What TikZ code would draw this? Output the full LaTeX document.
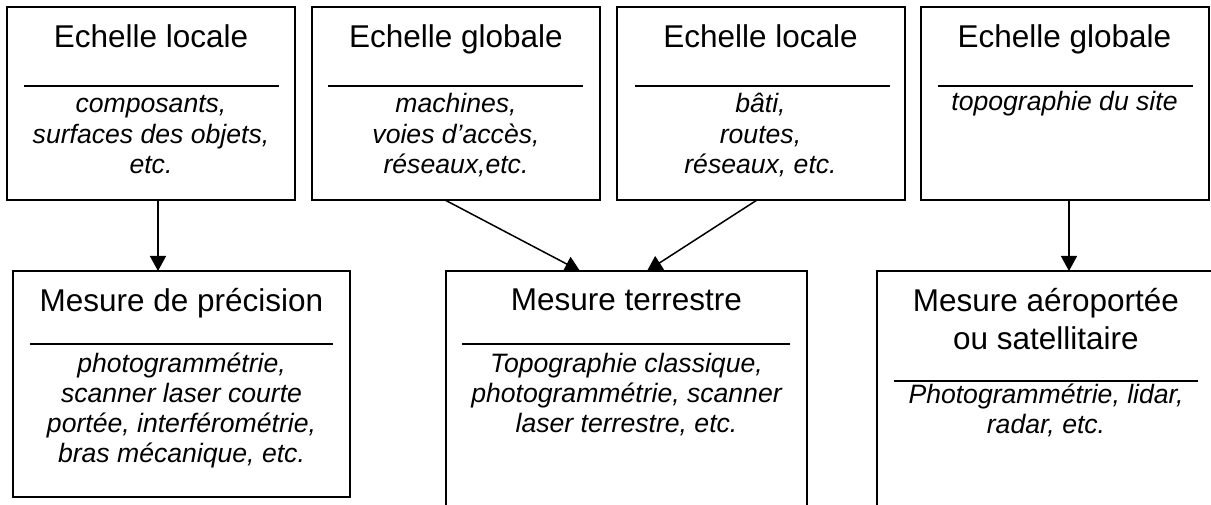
\documentclass[tikz,border=0pt]{standalone}
\usepackage{fontspec}
\setmainfont{Liberation Sans}
\usetikzlibrary{arrows.meta}
\newcommand{\ttlfont}{\fontsize{31.5}{38}\selectfont}
\newcommand{\bdyfont}{\fontsize{26.6}{30.3}\selectfont\itshape}
\newcommand{\mlines}[1]{\begin{tabular}[t]{@{}c@{}}#1\end{tabular}}
\begin{document}
\begin{tikzpicture}[x=1pt,y=-1pt,
  box/.style={draw,line width=2pt,inner sep=0pt,outer sep=0pt},
  topbox/.style={box,minimum width=288pt,minimum height=193pt},
  ttl/.style={anchor=base,inner sep=0pt,font=\ttlfont},
  bdy/.style={anchor=base,inner sep=0pt,font=\bdyfont},
  rule/.style={line width=2pt},
  conn/.style={line width=1.5pt,-{Triangle[width=16pt,length=15pt]}}]
\path[use as bounding box] (0,0) rectangle (1211,505);
\begin{scope}
\clip (0,0) rectangle (1211,505);
% top boxes
\node[topbox] (t1) at (151,103.5) {};
\node[topbox] (t2) at (456,103.5) {};
\node[topbox] (t3) at (760.5,103.5) {};
\node[topbox] (t4) at (1064.5,103.5) {};
% bottom boxes
\node[box,minimum width=337pt,minimum height=226pt] (b1) at (181.5,384) {};
\node[box,minimum width=361pt,minimum height=259pt] (b2) at (626.5,400.5) {};
\node[box,minimum width=338pt,minimum height=259pt] (b3) at (1046,400.5) {};
% top texts
\node[ttl] (t1h) at (151,48) {Echelle locale};
\node[ttl] (t2h) at (456,48) {Echelle globale};
\node[ttl] (t3h) at (760.5,48) {Echelle locale};
\node[ttl] (t4h) at (1064.5,48) {Echelle globale};
\draw[rule] (24,86) -- (279,86);
\draw[rule] (328,86) -- (583,86);
\draw[rule] (635,86) -- (890,86);
\draw[rule] (938,86) -- (1193,86);
\node[bdy] (t1b) at (151,113) {\mlines{composants,\\ surfaces des objets,\\ etc.}};
\node[bdy] (t2b) at (456,113) {\mlines{machines,\\ voies d’accès,\\ réseaux,etc.}};
\node[bdy] (t3b) at (760.5,113) {\mlines{bâti,\\ routes,\\ réseaux, etc.}};
\node[bdy] (t4b) at (1064.5,111) {topographie du site};
% bottom texts
\node[ttl] (b1h) at (181.5,312) {Mesure de précision};
\node[ttl] (b2h) at (626.5,310) {Mesure terrestre};
\node[ttl] (b3h) at (1046,312) {\mlines{Mesure aéroportée\\ ou satellitaire}};
\draw[rule] (30,344) -- (333,344);
\draw[rule] (462,344) -- (790,344);
\draw[rule] (894,381) -- (1198,381);
\node[bdy] (b1b) at (181.5,372) {\mlines{photogrammétrie,\\ scanner laser courte\\ portée, interférométrie,\\ bras mécanique, etc.}};
\node[bdy] (b2b) at (626.5,372) {\mlines{Topographie classique,\\ photogrammétrie, scanner\\ laser terrestre, etc.}};
\node[bdy] (b3b) at (1046,403) {\mlines{Photogrammétrie, lidar,\\ radar, etc.}};
% connectors
\draw[conn] ([xshift=7pt]t1.south) -- ([xshift=7pt]t1.south |- b1.north);
\draw[conn] ([xshift=-11pt]t2.south) -- ([xshift=-46.5pt]b2.north);
\draw[conn] ([xshift=-3.5pt]t3.south) -- ([xshift=20.5pt]b2.north);
\draw[conn] ([xshift=4.5pt]t4.south) -- ([xshift=4.5pt]t4.south |- b3.north);
\end{scope}
\end{tikzpicture}
\end{document}
